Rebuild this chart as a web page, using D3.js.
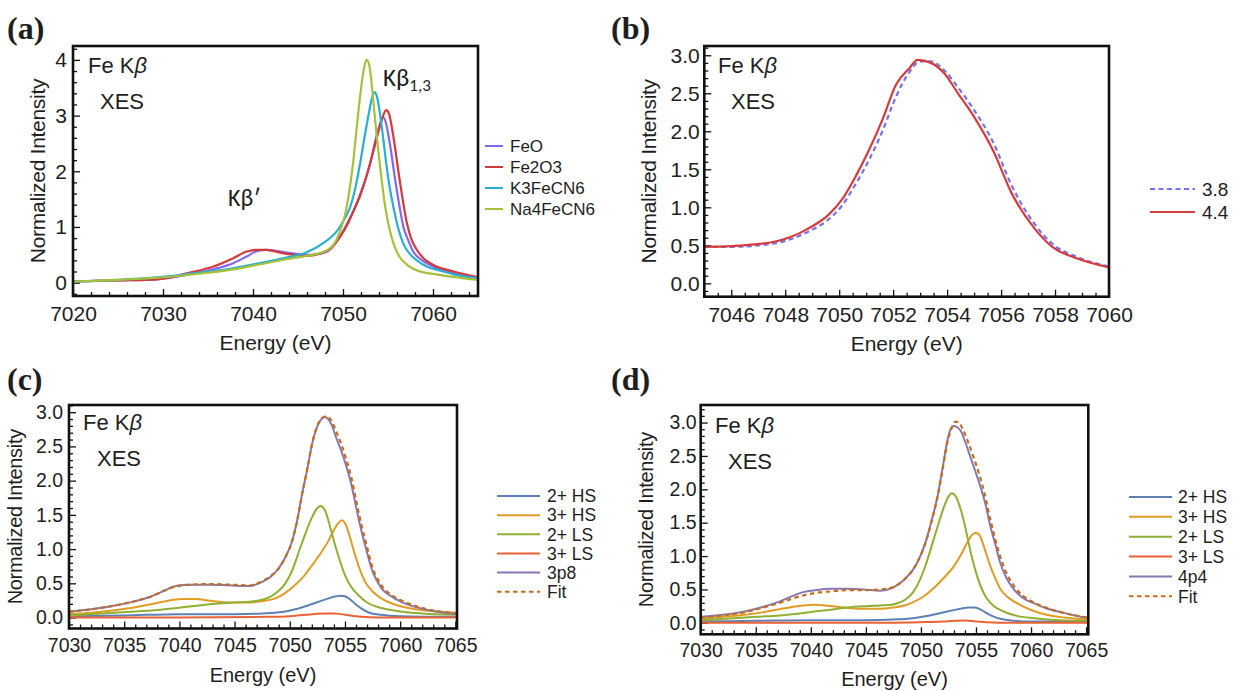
<!DOCTYPE html>
<html>
<head>
<meta charset="utf-8">
<script src="https://cdn.jsdelivr.net/npm/d3@7"></script>
<style>
  body { margin: 0; background: #fff; }
  svg { display: block; font-family: "Liberation Sans", Arial, sans-serif; }
  text { fill: #1e1e1e; }
</style>
</head>
<body>
<script>
// ---------- Panel (a): Fe Kβ XES of reference compounds ----------
const feO = [[7020,0.02],[7025,0.04],[7029.3,0.06],[7033,0.15],[7035.6,0.24],[7037.8,0.35],[7039.3,0.47],[7040.7,0.58],[7041.5,0.59],[7042.2,0.58],[7043.7,0.54],[7045.2,0.51],[7046.5,0.50],[7047.5,0.52],[7048.6,0.60],[7049.7,0.84],[7050.8,1.17],[7051.9,1.56],[7053.0,2.14],[7053.8,2.68],[7054.3,2.93],[7054.5,2.97],[7054.8,2.85],[7055.3,2.40],[7055.8,1.84],[7056.3,1.35],[7056.7,1.01],[7057.2,0.78],[7057.8,0.56],[7058.8,0.40],[7060,0.29],[7062,0.18],[7065,0.08]];
const fe2O3 = [[7020,0.02],[7025,0.04],[7029.3,0.06],[7033,0.18],[7035.6,0.29],[7037.8,0.44],[7039.3,0.56],[7040.4,0.59],[7041.5,0.59],[7043,0.54],[7044.5,0.50],[7045.9,0.48],[7047.4,0.52],[7048.6,0.61],[7049.7,0.83],[7050.5,1.05],[7051.2,1.30],[7052,1.62],[7052.7,1.96],[7053.7,2.56],[7054.3,2.92],[7054.8,3.10],[7055.1,3.04],[7055.6,2.62],[7056.3,1.84],[7057.1,1.07],[7057.6,0.78],[7058.2,0.59],[7059,0.43],[7060,0.32],[7062.3,0.20],[7065,0.10]];
const k3FeCN6 = [[7020,0.02],[7025,0.05],[7031.1,0.12],[7034,0.18],[7037.1,0.24],[7040.8,0.35],[7043.7,0.45],[7045.9,0.54],[7047.8,0.71],[7049.3,0.92],[7050.2,1.15],[7050.8,1.36],[7051.4,1.72],[7051.9,2.14],[7052.4,2.62],[7052.8,2.98],[7053.2,3.30],[7053.5,3.42],[7053.8,3.32],[7054.1,3.04],[7054.5,2.55],[7054.8,2.14],[7055.2,1.70],[7055.6,1.36],[7056.1,1.00],[7056.7,0.70],[7057.4,0.52],[7058.2,0.40],[7059.3,0.29],[7060.7,0.22],[7062.5,0.14],[7065,0.08]];
const na4FeCN6 = [[7020,0.02],[7025,0.05],[7031.1,0.11],[7034,0.16],[7037.1,0.22],[7040.8,0.33],[7043.7,0.42],[7045.9,0.48],[7047.8,0.55],[7048.9,0.67],[7049.7,0.94],[7050.2,1.20],[7050.6,1.54],[7051.1,2.12],[7051.5,2.74],[7051.9,3.35],[7052.3,3.82],[7052.6,4.00],[7052.9,3.92],[7053.2,3.55],[7053.5,3.04],[7053.9,2.40],[7054.3,1.84],[7054.7,1.35],[7055.2,0.94],[7055.7,0.66],[7056.3,0.46],[7057.2,0.31],[7058.2,0.22],[7060.7,0.14],[7065,0.05]];

// ---------- Panel (b): Kβ main line, two settings ----------
const spec38 = [[7045,0.48],[7046,0.48],[7047.5,0.52],[7048.2,0.58],[7048.8,0.67],[7049.6,0.84],[7050.1,1.02],[7050.6,1.30],[7051.1,1.62],[7051.6,2.00],[7052.1,2.45],[7052.6,2.78],[7053.0,2.92],[7053.4,2.92],[7053.9,2.80],[7054.4,2.58],[7055.0,2.28],[7055.7,1.86],[7056.4,1.28],[7057.2,0.80],[7057.9,0.52],[7058.8,0.35],[7060,0.22]];
const spec44 = [[7045,0.48],[7046,0.49],[7047.5,0.54],[7048.2,0.61],[7048.8,0.71],[7049.6,0.90],[7050.1,1.10],[7050.6,1.40],[7051.1,1.75],[7051.6,2.15],[7052.1,2.61],[7052.6,2.83],[7052.9,2.94],[7053.4,2.90],[7053.9,2.76],[7054.4,2.50],[7055.0,2.19],[7055.7,1.75],[7056.4,1.18],[7057.2,0.74],[7057.9,0.48],[7058.8,0.33],[7060,0.21]];

// ---------- Panel (c): component fit, 3p8 ----------
const c2HS = [[7030,0.02],[7035,0.03],[7040,0.05],[7045,0.05],[7047.5,0.06],[7049.3,0.08],[7050.5,0.12],[7051.7,0.18],[7052.6,0.23],[7053.5,0.28],[7054.2,0.31],[7054.6,0.32],[7055.0,0.31],[7055.5,0.26],[7056.0,0.19],[7056.5,0.13],[7057.2,0.07],[7058.3,0.04],[7060,0.02],[7065.2,0.01]];
const c3HS = [[7030,0.05],[7032,0.07],[7034.3,0.11],[7036,0.15],[7037.3,0.19],[7038.5,0.23],[7039.5,0.26],[7040.3,0.27],[7041.5,0.27],[7043,0.24],[7044.5,0.22],[7046.3,0.22],[7047.5,0.24],[7048.7,0.28],[7049.6,0.36],[7050.5,0.48],[7051.3,0.61],[7052.0,0.76],[7052.8,0.94],[7053.5,1.12],[7054.0,1.28],[7054.4,1.38],[7054.7,1.42],[7055.0,1.38],[7055.4,1.20],[7055.9,0.92],[7056.4,0.68],[7056.8,0.53],[7057.5,0.38],[7058.3,0.28],[7059.5,0.19],[7060.7,0.14],[7062.5,0.10],[7065.2,0.07]];
const c2LS = [[7030,0.03],[7033,0.06],[7036,0.09],[7038,0.11],[7040.3,0.15],[7042,0.18],[7043.3,0.20],[7045,0.22],[7046.3,0.23],[7047.5,0.26],[7048.3,0.31],[7049.0,0.39],[7049.6,0.50],[7050.2,0.68],[7050.8,0.95],[7051.4,1.22],[7052.0,1.46],[7052.4,1.58],[7052.8,1.63],[7053.2,1.56],[7053.7,1.30],[7054.1,1.06],[7054.6,0.80],[7055.0,0.62],[7055.6,0.44],[7056.2,0.33],[7057.0,0.22],[7058.3,0.14],[7060,0.09],[7062,0.06],[7065.2,0.04]];
const c3LS = [[7030,0.0],[7040,0.0],[7048,0.01],[7050,0.02],[7051.5,0.04],[7052.5,0.055],[7053.3,0.06],[7054.0,0.06],[7054.6,0.05],[7055.5,0.03],[7056.5,0.01],[7058,0.0],[7065.2,0.0]];
const c3p8 = [[7030,0.085],[7032,0.12],[7034.3,0.18],[7036,0.24],[7037.3,0.30],[7038.6,0.39],[7039.7,0.46],[7041,0.48],[7042.7,0.48],[7044.5,0.47],[7046.3,0.46],[7047.5,0.52],[7048.3,0.60],[7049.0,0.72],[7049.6,0.88],[7050.2,1.11],[7050.7,1.44],[7051.1,1.79],[7051.6,2.18],[7052.0,2.52],[7052.6,2.83],[7053.2,2.93],[7053.8,2.81],[7054.2,2.63],[7054.7,2.42],[7055.1,2.22],[7055.6,1.93],[7056.0,1.62],[7056.5,1.26],[7057.0,0.95],[7057.4,0.72],[7058.3,0.43],[7059.2,0.31],[7060.1,0.23],[7062.5,0.11],[7065.2,0.05]];
const cFit = [[7030,0.085],[7032,0.12],[7034.3,0.18],[7036,0.24],[7037.3,0.30],[7038.6,0.39],[7039.7,0.46],[7041,0.48],[7042.7,0.49],[7044.5,0.48],[7046.3,0.47],[7047.5,0.53],[7048.3,0.61],[7049.0,0.72],[7049.6,0.88],[7050.2,1.11],[7050.7,1.44],[7051.1,1.79],[7051.6,2.18],[7052.0,2.52],[7052.6,2.84],[7053.3,2.94],[7053.8,2.87],[7054.2,2.72],[7054.7,2.52],[7055.1,2.32],[7055.6,2.03],[7056.0,1.72],[7056.5,1.35],[7057.0,1.03],[7057.4,0.78],[7058.3,0.47],[7059.2,0.33],[7060.1,0.25],[7062.5,0.12],[7065.2,0.06]];

// ---------- Panel (d): component fit, 4p4 ----------
const d2HS = [[7030,0.02],[7035,0.03],[7040,0.04],[7045,0.04],[7047.5,0.05],[7049.3,0.07],[7050.8,0.11],[7052.4,0.17],[7053.6,0.21],[7054.3,0.23],[7054.8,0.23],[7055.3,0.21],[7055.8,0.16],[7056.5,0.10],[7057.2,0.06],[7058.5,0.03],[7060,0.02],[7065.2,0.02]];
const d3HS = [[7030,0.06],[7032,0.09],[7034,0.12],[7035.7,0.16],[7037,0.20],[7038.1,0.23],[7039.3,0.26],[7040.3,0.27],[7041.3,0.26],[7042.4,0.24],[7043.6,0.22],[7044.8,0.21],[7046.3,0.21],[7047.5,0.23],[7048.5,0.26],[7049.3,0.31],[7050.2,0.39],[7051.1,0.51],[7052.0,0.66],[7053.0,0.85],[7053.7,1.04],[7054.2,1.20],[7054.6,1.31],[7055.0,1.35],[7055.4,1.29],[7055.8,1.10],[7056.3,0.85],[7056.8,0.65],[7057.2,0.51],[7058.0,0.37],[7059.0,0.27],[7060.2,0.18],[7061.4,0.12],[7063,0.08],[7065.2,0.05]];
const d2LS = [[7030,0.04],[7033,0.07],[7035,0.09],[7037.2,0.11],[7039,0.14],[7040.3,0.17],[7042,0.20],[7043.3,0.23],[7045,0.25],[7046.3,0.26],[7047.3,0.27],[7047.8,0.29],[7048.6,0.35],[7049.3,0.46],[7049.9,0.64],[7050.5,0.90],[7051.1,1.22],[7051.7,1.54],[7052.1,1.74],[7052.5,1.89],[7052.8,1.94],[7053.1,1.91],[7053.5,1.76],[7053.9,1.52],[7054.2,1.30],[7054.6,1.00],[7055.1,0.70],[7055.6,0.48],[7056.0,0.36],[7056.7,0.24],[7057.5,0.17],[7058.8,0.10],[7060.3,0.07],[7062.5,0.04],[7065.2,0.03]];
const d3LS = [[7030,0.0],[7045,0.0],[7050,0.01],[7052,0.02],[7053,0.03],[7054.1,0.035],[7055,0.02],[7056,0.01],[7058,0.0],[7065.2,0.0]];
const d4p4 = [[7030,0.09],[7032,0.12],[7034,0.17],[7035.7,0.24],[7037,0.31],[7038.1,0.385],[7039.3,0.46],[7040.5,0.49],[7041.8,0.51],[7043.3,0.51],[7044.8,0.50],[7046.3,0.48],[7047.2,0.51],[7047.8,0.56],[7048.5,0.65],[7049.3,0.80],[7050.0,1.02],[7050.5,1.25],[7051.0,1.55],[7051.5,1.89],[7052.0,2.35],[7052.4,2.73],[7052.7,2.90],[7053.0,2.95],[7053.3,2.93],[7053.6,2.88],[7054.0,2.72],[7054.5,2.48],[7055.0,2.24],[7055.4,2.04],[7055.9,1.75],[7056.3,1.45],[7056.8,1.15],[7057.2,0.90],[7057.8,0.66],[7058.4,0.51],[7059.2,0.38],[7060.3,0.29],[7061.5,0.21],[7062.7,0.16],[7064,0.11],[7065.2,0.07]];
const dFit = [[7030,0.08],[7032,0.11],[7034,0.16],[7035.7,0.23],[7037,0.29],[7038.1,0.35],[7039.3,0.41],[7040.5,0.45],[7041.8,0.47],[7043.3,0.49],[7044.8,0.49],[7046.3,0.50],[7047.2,0.52],[7047.8,0.56],[7048.5,0.65],[7049.3,0.80],[7050.0,1.02],[7050.5,1.24],[7051.0,1.54],[7051.5,1.88],[7052.0,2.33],[7052.4,2.70],[7052.8,2.92],[7053.1,3.01],[7053.4,3.01],[7053.8,2.90],[7054.3,2.70],[7054.8,2.47],[7055.3,2.22],[7055.8,1.92],[7056.3,1.55],[7056.8,1.22],[7057.3,0.94],[7057.9,0.70],[7058.5,0.54],[7059.3,0.40],[7060.3,0.30],[7061.5,0.22],[7062.7,0.16],[7064,0.11],[7065.2,0.08]];

// Legend labels
const namesA = ["FeO", "Fe2O3", "K3FeCN6", "Na4FeCN6"];
const namesB = ["3.8", "4.4"];
const namesC = ["2+ HS", "3+ HS", "2+ LS", "3+ LS", "3p8", "Fit"];
const namesD = ["2+ HS", "3+ HS", "2+ LS", "3+ LS", "4p4", "Fit"];

// Tick values
const ticksXA = [7020, 7030, 7040, 7050, 7060];
const ticksYA = [0, 1, 2, 3, 4];
const ticksXB = [7046, 7048, 7050, 7052, 7054, 7056, 7058, 7060];
const ticksYHalf = [0, 0.5, 1, 1.5, 2, 2.5, 3];
const ticksXCD = [7030, 7035, 7040, 7045, 7050, 7055, 7060, 7065];

const fitColors = ["#5e81b5", "#e19c24", "#8fb032", "#eb6235", "#8778b3", "#c56e1a"];

const SANS = "'Liberation Sans', Arial, sans-serif";
const SERIF = "'Liberation Serif', 'Times New Roman', serif";
const CALLOUT = "Carlito, Lato, 'Liberation Sans', sans-serif";

const W = 1233, H = 691;
const svg = d3.select("body").append("svg").attr("width", W).attr("height", H);
const defs = svg.append("defs");

const curveLine = (x, y) => d3.line().x(d => x(d[0])).y(d => y(d[1])).curve(d3.curveMonotoneX);

function drawPanel(p) {
  const g = svg.append("g");
  const x = d3.scaleLinear().domain(p.xDomain).range([p.left, p.right]);
  const y = d3.scaleLinear().domain(p.yDomain).range([p.bottom, p.top]);

  defs.append("clipPath").attr("id", "clip-" + p.id)
    .append("rect").attr("x", p.left).attr("y", p.top)
    .attr("width", p.right - p.left).attr("height", p.bottom - p.top);

  const styleAxis = (sel, size) => {
    sel.select(".domain").remove();
    sel.attr("font-family", null).attr("font-size", null);
    sel.selectAll("line").attr("stroke", "#111").attr("stroke-width", 1.3);
    sel.selectAll("text").style("font-family", SANS)
      .style("font-size", size + "px").attr("fill", "#1e1e1e");
  };

  // minor ticks (inward)
  g.append("g").attr("transform", `translate(0,${p.bottom})`)
    .call(d3.axisBottom(x).tickValues(p.xMinor).tickSize(-4).tickFormat(""))
    .call(s => styleAxis(s, p.tickFont));
  g.append("g").attr("transform", `translate(${p.left},0)`)
    .call(d3.axisLeft(y).tickValues(p.yMinor).tickSize(-4).tickFormat(""))
    .call(s => styleAxis(s, p.tickFont));

  // major ticks + labels
  g.append("g").attr("transform", `translate(0,${p.bottom})`)
    .call(d3.axisBottom(x).tickValues(p.xTicks).tickSizeInner(-7).tickSizeOuter(0)
      .tickPadding(p.xPad).tickFormat(d3.format("d")))
    .call(s => styleAxis(s, p.tickFont));
  g.append("g").attr("transform", `translate(${p.left},0)`)
    .call(d3.axisLeft(y).tickValues(p.yTicks).tickSizeInner(-7).tickSizeOuter(0)
      .tickPadding(p.yPad).tickFormat(d3.format(p.yFormat)))
    .call(s => styleAxis(s, p.tickFont));

  // curves
  const line = curveLine(x, y);
  const plot = g.append("g").attr("clip-path", `url(#clip-${p.id})`);
  p.series.forEach(s => {
    plot.append("path").datum(s.data)
      .attr("fill", "none").attr("stroke", s.color)
      .attr("stroke-width", s.width || 2)
      .attr("stroke-dasharray", s.dash || null)
      .attr("stroke-linejoin", "round")
      .attr("d", line);
  });

  // frame
  g.append("rect").attr("x", p.left).attr("y", p.top)
    .attr("width", p.right - p.left).attr("height", p.bottom - p.top)
    .attr("fill", "none").attr("stroke", "#111").attr("stroke-width", 2.6);

  // axis titles
  g.append("text").attr("x", (p.left + p.right) / 2).attr("y", p.xTitleY)
    .attr("text-anchor", "middle").style("font-size", p.titleFont + "px").text("Energy (eV)");
  g.append("text")
    .attr("transform", `translate(${p.yTitleX},${(p.top + p.bottom) / 2}) rotate(-90)`)
    .attr("text-anchor", "middle").style("font-size", p.titleFont + "px")
    .attr("letter-spacing", -0.3).text("Normalized Intensity");

  // in-plot label "Fe Kβ / XES"
  const lab = g.append("text").attr("x", p.feX).attr("y", p.feY).style("font-size", "22px");
  lab.append("tspan").text("Fe K");
  lab.append("tspan").style("font-style", "italic").text("β");
  g.append("text").attr("x", p.xesX).attr("y", p.feY + 36).style("font-size", "22px").text("XES");

  // panel letter
  svg.append("text").attr("x", p.letterX).attr("y", p.letterY)
    .style("font-family", SERIF).style("font-weight", "bold")
    .style("font-size", "32px").text(p.letter);

  // legend
  const lg = svg.append("g");
  p.series.forEach((s, i) => {
    const ly = p.legend.y0 + i * p.legend.dy;
    lg.append("line").attr("x1", p.legend.x0).attr("x2", p.legend.x1)
      .attr("y1", ly).attr("y2", ly).attr("stroke", s.color)
      .attr("stroke-width", 2).attr("stroke-dasharray", s.dash || null);
    lg.append("text").attr("x", p.legend.tx).attr("y", ly).attr("dy", "0.36em")
      .style("font-size", p.legend.font + "px").text(s.name);
  });
  return { g, x, y };
}

// (a)
const pa = drawPanel({
  id: "a", letter: "(a)", letterX: 7, letterY: 39,
  left: 73, right: 478, top: 46, bottom: 296,
  xDomain: [7020, 7065], yDomain: [-0.24, 4.25],
  xTicks: ticksXA, xMinor: d3.range(7022, 7065, 2).filter(v => v % 10 !== 0),
  yTicks: ticksYA, yMinor: d3.range(-0.2, 4.21, 0.2).filter(v => Math.abs(v - Math.round(v)) > 0.01),
  yFormat: "d", tickFont: 21, titleFont: 21, xPad: 10, yPad: 6,
  xTitleY: 350, yTitleX: 45,
  feX: 88, feY: 73, xesX: 100,
  series: [
    { name: namesA[0], data: feO, color: "#8466f2", width: 2.2 },
    { name: namesA[1], data: fe2O3, color: "#d43a3a", width: 2.2 },
    { name: namesA[2], data: k3FeCN6, color: "#2aaed2", width: 2.2 },
    { name: namesA[3], data: na4FeCN6, color: "#a6c23a", width: 2.2 }
  ],
  legend: { x0: 485, x1: 503, tx: 510, y0: 146, dy: 21, font: 17 }
});
pa.g.append("text").attr("x", 228).attr("y", 206)
  .style("font-family", CALLOUT).style("font-size", "24px").text("Kβ′");
const kb13 = pa.g.append("text").attr("x", 383).attr("y", 86)
  .style("font-family", CALLOUT).style("font-size", "25px");
kb13.append("tspan").text("Kβ");
kb13.append("tspan").style("font-size", "17px").attr("dy", 5).text("1,3");

// (b)
drawPanel({
  id: "b", letter: "(b)", letterX: 611, letterY: 39,
  left: 704.3, right: 1109, top: 46, bottom: 296.7,
  xDomain: [7045, 7060], yDomain: [-0.176, 3.122],
  xTicks: ticksXB, xMinor: d3.range(7045, 7060.01, 0.5).filter(v => v % 2 !== 0),
  yTicks: ticksYHalf, yMinor: d3.range(-0.1, 3.11, 0.1).filter(v => Math.abs(v * 2 - Math.round(v * 2)) > 0.01),
  yFormat: ".1f", tickFont: 21, titleFont: 21, xPad: 10, yPad: 4.5,
  xTitleY: 351, yTitleX: 656,
  feX: 718, feY: 73, xesX: 731,
  series: [
    { name: namesB[0], data: spec38, color: "#7272f2", dash: "5,3.5", width: 2.2 },
    { name: namesB[1], data: spec44, color: "#d63c3c", width: 2.2 }
  ],
  legend: { x0: 1150, x1: 1195, tx: 1202, y0: 189, dy: 23, font: 19 }
});

// (c)
drawPanel({
  id: "c", letter: "(c)", letterX: 7, letterY: 390,
  left: 69, right: 457, top: 405, bottom: 628.5,
  xDomain: [7030, 7065.15], yDomain: [-0.16, 3.105],
  xTicks: ticksXCD, xMinor: d3.range(7031, 7065, 1).filter(v => v % 5 !== 0),
  yTicks: ticksYHalf, yMinor: d3.range(-0.1, 3.11, 0.1).filter(v => Math.abs(v * 2 - Math.round(v * 2)) > 0.01),
  yFormat: ".1f", tickFont: 19.5, titleFont: 20, xPad: 10, yPad: 6,
  xTitleY: 682, yTitleX: 22,
  feX: 83, feY: 430, xesX: 97,
  series: [
    { name: namesC[0], data: c2HS, color: fitColors[0] },
    { name: namesC[1], data: c3HS, color: fitColors[1] },
    { name: namesC[2], data: c2LS, color: fitColors[2] },
    { name: namesC[3], data: c3LS, color: fitColors[3] },
    { name: namesC[4], data: c3p8, color: fitColors[4] },
    { name: namesC[5], data: cFit, color: fitColors[5], dash: "4.5,3.5", width: 2.2 }
  ],
  legend: { x0: 497, x1: 540, tx: 547, y0: 496, dy: 19.15, font: 17.5 }
});

// (d)
drawPanel({
  id: "d", letter: "(d)", letterX: 611, letterY: 390,
  left: 700.7, right: 1088.3, top: 405, bottom: 634.3,
  xDomain: [7030, 7065.2], yDomain: [-0.172, 3.263],
  xTicks: ticksXCD, xMinor: d3.range(7031, 7065.2, 1).filter(v => v % 5 !== 0),
  yTicks: ticksYHalf, yMinor: d3.range(-0.1, 3.21, 0.1).filter(v => Math.abs(v * 2 - Math.round(v * 2)) > 0.01),
  yFormat: ".1f", tickFont: 19.5, titleFont: 20, xPad: 9, yPad: 4,
  xTitleY: 686, yTitleX: 653,
  feX: 715, feY: 433, xesX: 728,
  series: [
    { name: namesD[0], data: d2HS, color: fitColors[0] },
    { name: namesD[1], data: d3HS, color: fitColors[1] },
    { name: namesD[2], data: d2LS, color: fitColors[2] },
    { name: namesD[3], data: d3LS, color: fitColors[3] },
    { name: namesD[4], data: d4p4, color: fitColors[4] },
    { name: namesD[5], data: dFit, color: fitColors[5], dash: "4.5,3.5", width: 2.2 }
  ],
  legend: { x0: 1129, x1: 1172, tx: 1178, y0: 497, dy: 19.85, font: 17.5 }
});
</script>
</body>
</html>
